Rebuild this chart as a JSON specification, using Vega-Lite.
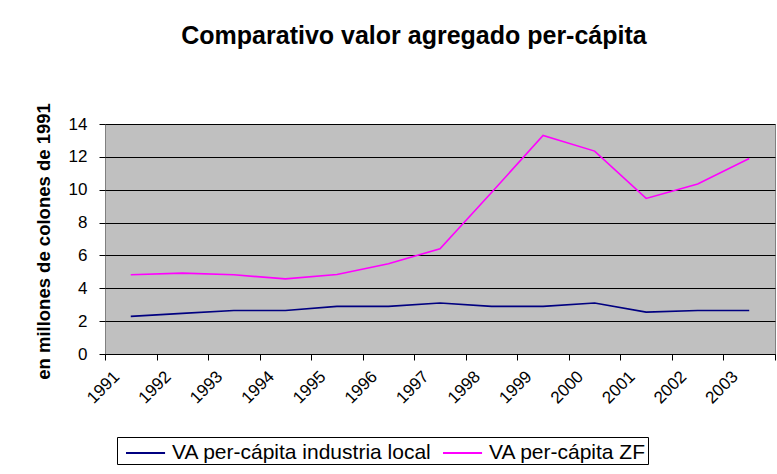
{
  "$schema": "https://vega.github.io/schema/vega-lite/v6.json",
  "autosize": {"type": "none"},
  "padding": {"left": 105, "top": 124, "right": 2, "bottom": 120},
  "width": 670,
  "height": 230,
  "title": {
    "text": "Comparativo valor agregado per-cápita",
    "font": "Liberation Sans",
    "fontSize": 25,
    "fontWeight": "bold",
    "color": "#000000",
    "anchor": "middle",
    "dx": -26,
    "offset": 54
  },
  "config": {
    "font": "Liberation Sans",
    "view": {"fill": "#c0c0c0", "stroke": "#808080", "strokeWidth": 1}
  },
  "data": {
    "values": [
      {"year": "1991", "serie": "VA per-cápita industria local", "value": 2.29},
      {"year": "1992", "serie": "VA per-cápita industria local", "value": 2.47},
      {"year": "1993", "serie": "VA per-cápita industria local", "value": 2.65},
      {"year": "1994", "serie": "VA per-cápita industria local", "value": 2.65},
      {"year": "1995", "serie": "VA per-cápita industria local", "value": 2.9},
      {"year": "1996", "serie": "VA per-cápita industria local", "value": 2.9},
      {"year": "1997", "serie": "VA per-cápita industria local", "value": 3.1},
      {"year": "1998", "serie": "VA per-cápita industria local", "value": 2.9},
      {"year": "1999", "serie": "VA per-cápita industria local", "value": 2.9},
      {"year": "2000", "serie": "VA per-cápita industria local", "value": 3.1},
      {"year": "2001", "serie": "VA per-cápita industria local", "value": 2.55},
      {"year": "2002", "serie": "VA per-cápita industria local", "value": 2.65},
      {"year": "2003", "serie": "VA per-cápita industria local", "value": 2.65},
      {"year": "1991", "serie": "VA per-cápita ZF", "value": 4.82},
      {"year": "1992", "serie": "VA per-cápita ZF", "value": 4.92},
      {"year": "1993", "serie": "VA per-cápita ZF", "value": 4.82},
      {"year": "1994", "serie": "VA per-cápita ZF", "value": 4.57},
      {"year": "1995", "serie": "VA per-cápita ZF", "value": 4.84},
      {"year": "1996", "serie": "VA per-cápita ZF", "value": 5.49},
      {"year": "1997", "serie": "VA per-cápita ZF", "value": 6.41},
      {"year": "1998", "serie": "VA per-cápita ZF", "value": 9.83},
      {"year": "1999", "serie": "VA per-cápita ZF", "value": 13.3},
      {"year": "2000", "serie": "VA per-cápita ZF", "value": 12.35},
      {"year": "2001", "serie": "VA per-cápita ZF", "value": 9.47},
      {"year": "2002", "serie": "VA per-cápita ZF", "value": 10.35},
      {"year": "2003", "serie": "VA per-cápita ZF", "value": 11.9}
    ]
  },
  "mark": {"type": "line", "strokeWidth": 1.6},
  "encoding": {
    "x": {
      "field": "year",
      "type": "nominal",
      "scale": {"type": "band", "paddingInner": 0, "paddingOuter": 0},
      "axis": {
        "title": null,
        "tickBand": "extent",
        "labelAngle": -45,
        "labelFontSize": 17,
        "labelColor": "#000000",
        "labelPadding": 8,
        "labelOffset": -20,
        "tickColor": "#000000",
        "tickSize": 6,
        "domainColor": "#000000",
        "grid": false
      }
    },
    "y": {
      "field": "value",
      "type": "quantitative",
      "scale": {"domain": [0, 14], "nice": false},
      "axis": {
        "title": "en millones de colones de 1991",
        "titleFontSize": 18.5,
        "titleFontWeight": "bold",
        "titleColor": "#000000",
        "titleX": -62,
        "titleY": 117,
        "titleAngle": 270,
        "titleAlign": "center",
        "titleBaseline": "middle",
        "values": [0, 2, 4, 6, 8, 10, 12, 14],
        "labelFontSize": 17,
        "labelColor": "#000000",
        "labelPadding": 12,
        "tickColor": "#000000",
        "tickSize": 6,
        "domain": false,
        "grid": true,
        "gridColor": "#000000",
        "gridWidth": 1
      }
    },
    "color": {
      "field": "serie",
      "type": "nominal",
      "scale": {
        "domain": ["VA per-cápita industria local", "VA per-cápita ZF"],
        "range": ["#000080", "#ff00ff"]
      },
      "legend": {
        "title": null,
        "orient": "none",
        "legendX": 12,
        "legendY": 313,
        "direction": "horizontal",
        "symbolType": "M-0.5,0H2.29",
        "symbolSize": 784,
        "symbolStrokeWidth": 2,
        "symbolFillColor": "transparent",
        "labelFontSize": 21,
        "labelColor": "#000000",
        "labelLimit": 400,
        "labelOffset": 24,
        "columnPadding": 3,
        "strokeColor": "#000000",
        "padding": 1,
        "fillColor": "#ffffff"
      }
    }
  }
}
